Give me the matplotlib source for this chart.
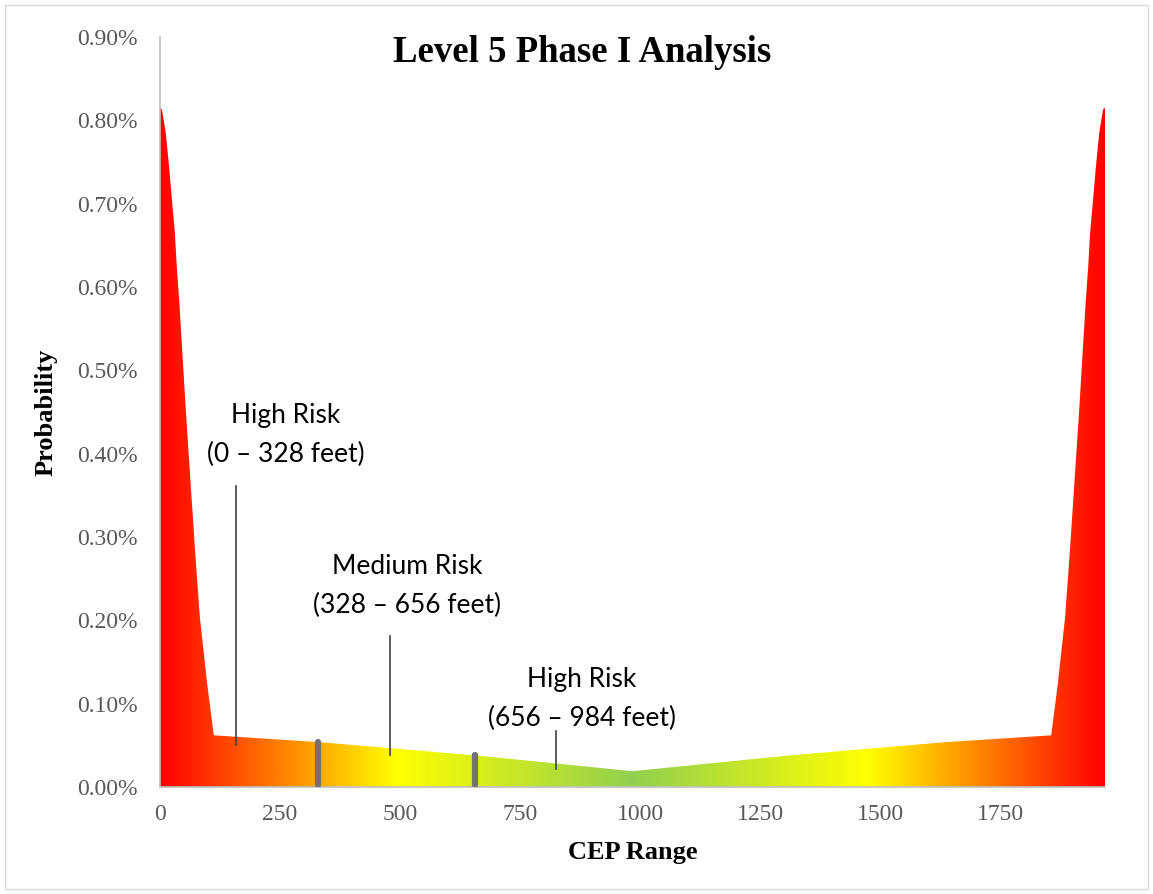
import numpy as np
import matplotlib
matplotlib.use("Agg")
import matplotlib.pyplot as plt
from matplotlib.colors import LinearSegmentedColormap
from matplotlib.patches import Rectangle

# CEP range (feet) and probability (%)
cep = [0, 4, 12, 19, 25, 31, 35, 40, 54, 73, 83, 98, 112,
       328, 656, 984, 1312, 1640,
       1856, 1870, 1885, 1895, 1914, 1928, 1933, 1937, 1943, 1949, 1956, 1964, 1968]
prob = [0.815, 0.813, 0.785, 0.744, 0.704, 0.665, 0.624, 0.584, 0.450, 0.284, 0.204, 0.125, 0.062,
        0.054, 0.038, 0.019, 0.038, 0.054,
        0.062, 0.125, 0.204, 0.284, 0.450, 0.584, 0.624, 0.665, 0.704, 0.744, 0.785, 0.813, 0.815]

# risk band boundaries (gray markers)
bounds = [328, 656]
bound_tops = [0.054, 0.038]

# annotation labels: text, label x, label y, leader line x, line top, line bottom
labels = ["High Risk\n(0 \u2013 328 feet)", "Medium Risk\n(328 \u2013 656 feet)",
          "High Risk\n(656 \u2013 984 feet)"]
label_x = [262, 514, 878]
label_y = [0.422, 0.241, 0.106]
line_x = [158, 479, 825]
line_top = [0.361, 0.181, 0.067]
line_bot = [0.050, 0.038, 0.022]

xticks = [0, 250, 500, 750, 1000, 1250, 1500, 1750]
yticks = [0.0, 0.1, 0.2, 0.3, 0.4, 0.5, 0.6, 0.7, 0.8, 0.9]

fig = plt.figure(figsize=(11.53, 8.94), dpi=100)
ax = fig.add_axes([160 / 1153, 1 - 787 / 894, 945 / 1153, 750 / 894])

# gradient fill clipped to the area under the curve
cmap = LinearSegmentedColormap.from_list(
    "risk", [(0.0, "#ff0000"), (0.25, "#ffff00"), (0.5, "#92d050"),
             (0.75, "#ffff00"), (1.0, "#ff0000")])
poly = ax.fill_between(cep, prob, 0, color="none", lw=0)
grad = np.linspace(0, 1, 512).reshape(1, -1)
im = ax.imshow(grad, cmap=cmap, aspect="auto", extent=[0, 1968, 0, 0.9],
               origin="lower", zorder=1)
im.set_clip_path(poly.get_paths()[0], transform=ax.transData)

for b, t in zip(bounds, bound_tops):
    ax.plot([b, b], [0.002, t], color="#767171", lw=4.5, solid_capstyle="round", zorder=3)

for txt, lx, ly, x, t0, t1 in zip(labels, label_x, label_y, line_x, line_top, line_bot):
    ax.text(lx, ly, txt, ha="center", va="center", fontsize=19, family="Lato",
            linespacing=1.7, color="black", zorder=4)
    ax.plot([x, x], [t1, t0], color="#404040", lw=1.2, zorder=3)

ax.set_xlim(0, 1968)
ax.set_ylim(0, 0.9)
ax.set_xticks(xticks)
ax.set_yticks(yticks)
ax.set_yticklabels([f"{v:.2f}%" for v in yticks])
ax.tick_params(length=0, labelsize=17, labelcolor="#595959")
ax.tick_params(axis="y", pad=16)
ax.tick_params(axis="x", pad=12)
for lab in ax.get_xticklabels() + ax.get_yticklabels():
    lab.set_family("Liberation Serif")

for s in ["top", "right"]:
    ax.spines[s].set_visible(False)
ax.spines["left"].set_color("#bfbfbf")
ax.spines["bottom"].set_color("#bfbfbf")
ax.spines["left"].set_linewidth(1.2)
ax.spines["bottom"].set_linewidth(1.2)

ax.set_xlabel("CEP Range", family="Liberation Serif", fontsize=19, fontweight="bold", labelpad=12)
ax.set_ylabel("Probability", family="Liberation Serif", fontsize=19, fontweight="bold", labelpad=14)
fig.text(582 / 1153, 1 - 52 / 894, "Level 5 Phase I Analysis", ha="center", va="center",
         family="Liberation Serif", fontsize=26.5, fontweight="bold")

fig.patches.append(Rectangle((5 / 1153, 5 / 894), 1 - 10 / 1153, 1 - 10 / 894,
                             transform=fig.transFigure, fill=False, ec="#d9d9d9", lw=1))

fig.savefig("out.png", dpi=100)
